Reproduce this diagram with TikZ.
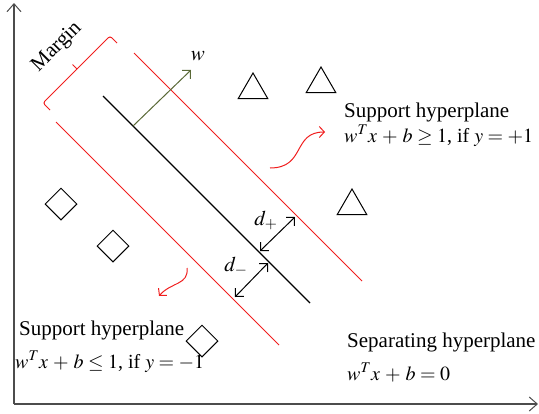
\documentclass[tikz,border=0pt]{standalone}
\usepackage{mathptmx}
\usepackage{fontspec}
\setmainfont{Liberation Serif}
\usepackage{tikz}
\usetikzlibrary{positioning, arrows.meta, shapes.geometric}

\definecolor{hypred}{RGB}{240,30,30}
\definecolor{wgreen}{RGB}{90,105,55}

\medmuskip=4.5mu plus 2mu minus 4mu

\begin{document}
\begin{tikzpicture}[
    x=1pt, y=-1pt,
    txt/.style={font=\fontsize{21}{25}\selectfont, inner sep=0pt, anchor=base west},
    eqn/.style={txt, font=\fontsize{20}{24}\selectfont},
    axis/.style={line width=1.6pt, black!70, -{Straight Barb[length=8pt, width=14pt, line width=1pt]}},
    sepline/.style={line width=1.1pt},
    supline/.style={line width=1pt, hypred},
    postri/.style={regular polygon, regular polygon sides=3, draw, line width=1pt, inner sep=0pt, minimum size=34pt},
    negdia/.style={diamond, draw, line width=1pt, inner sep=0pt, minimum size=32pt},
    dist/.style={line width=1pt, {Straight Barb[length=6pt, width=12pt]}-{Straight Barb[length=6pt, width=12pt]}},
    squig/.style={line width=1pt, hypred, -{Straight Barb[length=5pt, width=11pt]}},
]
    \useasboundingbox (0,0) rectangle (539,413);

    \coordinate (o) at (14,404);
    \coordinate (ytop) at (14,3);
    \coordinate (xend) at (538,404);
    \draw[axis] (o) -- (ytop);
    \draw[axis] (o) -- (xend);

    \coordinate (s1) at (103,96);
    \coordinate (s2) at (310,303);
    \coordinate (u1) at (134,53);
    \coordinate (u2) at (362,281);
    \coordinate (l1) at (56,122);
    \coordinate (l2) at (279,345);
    \draw[sepline] (s1) -- (s2);
    \draw[supline] (u1) -- (u2);
    \draw[supline] (l1) -- (l2);

    \draw[supline, rounded corners=2.5pt] (50,110) -- (43,103) -- (77,69) -- (110,36) -- (117,43);
    \draw[supline] (77,69) -- (72.5,64.5);
    \node[txt, anchor=center, rotate=45, font=\fontsize{21}{25}\selectfont] (margin) at (57,47) {Margin};

    \coordinate (w0) at (133,126);
    \coordinate (w1) at (191,70);
    \draw[line width=1pt, wgreen, -{Straight Barb[length=6pt, width=12pt]}] (w0) -- (w1);
    \node[txt, anchor=center] (wlbl) at (198,56) {$w$};

    \node[postri] (pos1) at (253,90) {};
    \node[postri] (pos2) at (321,84) {};
    \node[postri] (pos3) at (352,206) {};

    \node[negdia] (neg1) at (61,204) {};
    \node[negdia] (neg2) at (113,246) {};
    \node[negdia] (neg3) at (202,341) {};

    \coordinate (dp0) at (260,251);
    \coordinate (dp1) at (295,217);
    \coordinate (dm0) at (268,263);
    \coordinate (dm1) at (235,297);
    \draw[dist] (dp0) -- (dp1);
    \draw[dist] (dm0) -- (dm1);
    \node[txt, anchor=center] (dplbl) at (266,220) {$d_+$};
    \node[txt, anchor=center] (dmlbl) at (236,266) {$d_-$};

    \coordinate (qa) at (270,168);
    \coordinate (qb) at (325,132);
    \draw[squig] (qa) .. controls (306,168) and (292,132) .. (qb);
    \coordinate (qc) at (187,268);
    \coordinate (qd) at (159,296);
    \draw[squig] (qc) .. controls (189,285) and (171,282) .. (qd);

    \node[txt] (lblpos) at (344,117) {Support hyperplane};
    \node[eqn] (eqpos) at (344,142) {$w^T x + b \geq 1$, if $y = +1$};
    \node[txt] (lblneg) at (19,335) {Support hyperplane};
    \node[eqn] (eqneg) at (15,368) {$w^T x + b \leq 1$, if $y = -1$};
    \node[txt] (lblsep) at (347,347) {Separating hyperplane};
    \node[eqn] (eqsep) at (347,380) {$w^T x + b = 0$};
\end{tikzpicture}
\end{document}
